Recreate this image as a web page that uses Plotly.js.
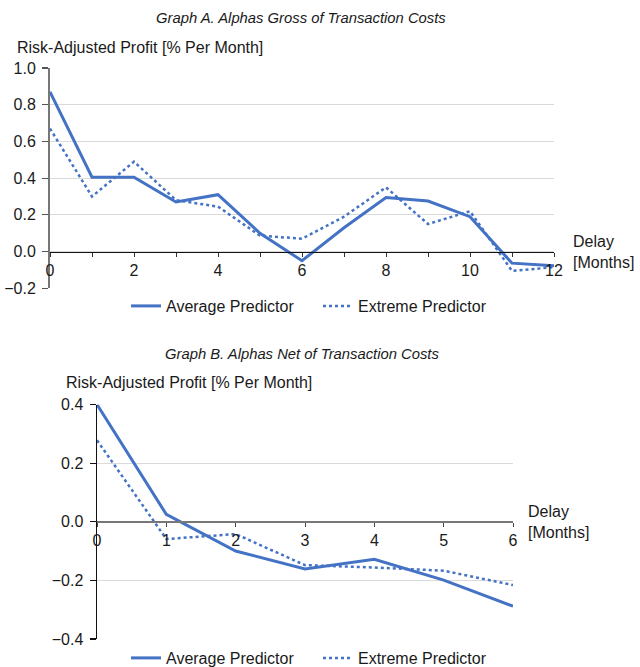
<!DOCTYPE html>
<html>
<head>
<meta charset="utf-8">
<script src="https://cdn.plot.ly/plotly-3.0.1.min.js"></script>
<style>html,body{margin:0;padding:0;background:#fff;}#chart{width:640px;height:667px;}</style>
</head>
<body>
<div id="chart"></div>
<script>
// ---- Data ----
const delayA = [0,1,2,3,4,5,6,7,8,9,10,11,12];
const avgA = [0.87,0.405,0.405,0.27,0.31,0.10,-0.05,0.13,0.295,0.275,0.19,-0.063,-0.077];
const extA = [0.67,0.30,0.49,0.28,0.245,0.087,0.07,0.19,0.35,0.15,0.22,-0.105,-0.085];
const delayB = [0,1,2,3,4,5,6];
const avgB = [0.40,0.025,-0.10,-0.161,-0.128,-0.199,-0.288];
const extB = [0.278,-0.059,-0.042,-0.148,-0.156,-0.167,-0.216];
const seriesNames = ["Average Predictor","Extreme Predictor"];
const titleA = "Graph A. Alphas Gross of Transaction Costs";
const titleB = "Graph B. Alphas Net of Transaction Costs";
const yTitle = "Risk-Adjusted Profit [% Per Month]";
const xTitle = "Delay<br>[Months]";

// ---- Layout helpers (pixel -> paper) ----
const W = 640, H = 667;
const px = v => v / W;
const py = v => 1 - v / H;
const blue = "#4472C4";
const font = "Liberation Sans, Arial, Helvetica, sans-serif";
const fs = 16;
const txt = "#1a1a1a";

const rangeA = [-0.2, 1.0], rangeB = [-0.4, 0.4];
const domAy = [py(288.3), py(68)], domBy = [py(639), py(404.5)];
const zeroPos = (dom, r) => dom[0] + (dom[1]-dom[0]) * (0 - r[0]) / (r[1]-r[0]);

const traces = [
  {x: delayA, y: avgA, name: seriesNames[0], mode: "lines", line: {color: blue, width: 3}, xaxis: "x", yaxis: "y", legend: "legend"},
  {x: delayA, y: extA, name: seriesNames[1], mode: "lines", line: {color: blue, width: 2.5, dash: "dot"}, xaxis: "x", yaxis: "y", legend: "legend"},
  {x: delayB, y: avgB, name: seriesNames[0], mode: "lines", line: {color: blue, width: 3}, xaxis: "x2", yaxis: "y2", legend: "legend2"},
  {x: delayB, y: extB, name: seriesNames[1], mode: "lines", line: {color: blue, width: 2.5, dash: "dot"}, xaxis: "x2", yaxis: "y2", legend: "legend2"}
];

const xCommon = {
  showgrid: false, zeroline: false, showline: true,
  ticks: "outside", ticklen: 4, tickwidth: 1, anchor: "free",
  tickfont: {family: font, size: fs, color: txt}, automargin: false
};
const yCommon = {
  showgrid: true, gridcolor: "#dadada", gridwidth: 1, zeroline: false, showline: true,
  ticks: "outside", ticklen: 6, tickwidth: 1.2, tickformat: ".1f", ticklabelstandoff: 3,
  tickfont: {family: font, size: fs, color: txt}, automargin: false
};

const legendCommon = {orientation: "h", yanchor: "middle", xanchor: "left",
  entrywidth: 147, entrywidthmode: "pixels", font: {family: font, size: fs, color: txt}, bgcolor: "rgba(0,0,0,0)"};

const layout = {
  width: W, height: H,
  margin: {l: 0, r: 0, t: 0, b: 0, autoexpand: false},
  paper_bgcolor: "#fff", plot_bgcolor: "rgba(0,0,0,0)",
  font: {family: font, size: fs, color: txt},
  showlegend: true,
  xaxis: Object.assign({}, xCommon, {domain: [px(50), px(554)], range: [0, 12], dtick: 2, tick0: 0,
    position: zeroPos(domAy, rangeA), linecolor: "#111", linewidth: 1.5, tickcolor: "#333",
    minor: {dtick: 1, ticks: "outside", ticklen: 4, tickcolor: "#333"}}),
  yaxis: Object.assign({}, yCommon, {domain: domAy, range: rangeA, dtick: 0.2, anchor: "x",
    linecolor: "#777", linewidth: 2, tickcolor: "#555"}),
  xaxis2: Object.assign({}, xCommon, {domain: [px(97), px(513)], range: [0, 6], dtick: 1, tick0: 0,
    position: zeroPos(domBy, rangeB), linecolor: "#777", linewidth: 2, tickcolor: "#444"}),
  yaxis2: Object.assign({}, yCommon, {domain: domBy, range: rangeB, dtick: 0.2, anchor: "x2",
    linecolor: "#111", linewidth: 1.5, tickcolor: "#111"}),
  legend: Object.assign({}, legendCommon, {x: px(126), y: py(306)}),
  legend2: Object.assign({}, legendCommon, {x: px(126), y: py(658)}),
  annotations: [
    {text: titleA, x: px(301), y: py(18), xref: "paper", yref: "paper", showarrow: false, xanchor: "center", yanchor: "middle",
     font: {family: font, size: 14.8, color: txt, style: "italic"}},
    {text: titleB, x: px(302), y: py(354), xref: "paper", yref: "paper", showarrow: false, xanchor: "center", yanchor: "middle",
     font: {family: font, size: 14.8, color: txt, style: "italic"}},
    {text: yTitle, x: px(15), y: py(47), xref: "paper", yref: "paper", showarrow: false, xanchor: "left", yanchor: "middle",
     font: {family: font, size: fs, color: txt}},
    {text: yTitle, x: px(64), y: py(382), xref: "paper", yref: "paper", showarrow: false, xanchor: "left", yanchor: "middle",
     font: {family: font, size: fs, color: txt}},
    {text: xTitle, x: px(571), y: py(252), xref: "paper", yref: "paper", showarrow: false, xanchor: "left", yanchor: "middle", align: "left",
     font: {family: font, size: fs, color: txt}},
    {text: xTitle, x: px(526), y: py(522), xref: "paper", yref: "paper", showarrow: false, xanchor: "left", yanchor: "middle", align: "left",
     font: {family: font, size: fs, color: txt}}
  ]
};

Plotly.newPlot("chart", traces, layout, {displayModeBar: false, staticPlot: true});
</script>
</body>
</html>
